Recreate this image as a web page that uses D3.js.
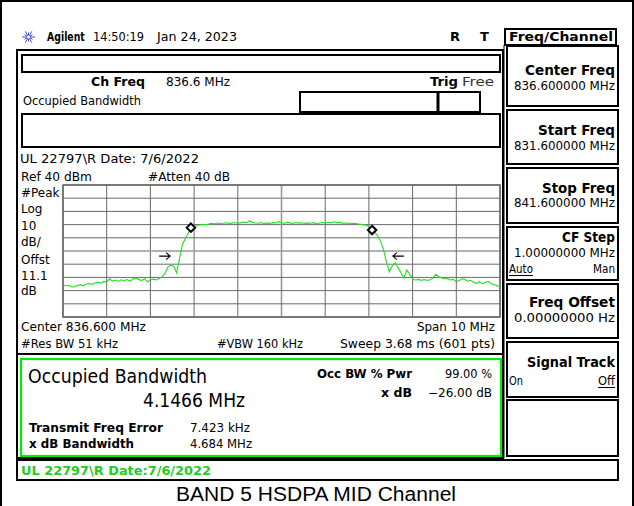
<!DOCTYPE html>
<html><head><meta charset="utf-8">
<script src="https://cdn.jsdelivr.net/npm/d3@7"></script>
<style>html,body{margin:0;padding:0;background:#fff;} svg{display:block;}</style>
</head><body>
<svg id="c" width="634" height="506"></svg>
<script>
// ---- data ----
const startFreq = 831.6, stopFreq = 841.6;      // MHz
const refLevel = 40, bottomLevel = -60;        // dBm, 10 dB/div
const traceLevels = [
-35.8,-36.5,-36.0,-37.3,-37.0,-36.2,-35.5,-36.4,-35.0,-34.6,
-35.3,-34.2,-33.6,-34.4,-33.0,-33.5,-31.0,-32.8,-32.0,-33.1,
-31.8,-32.5,-31.6,-32.9,-31.2,-30.4,-31.5,-32.4,-31.0,-33.4,
-32.0,-31.3,-31.9,-30.8,-29.6,-27.0,-22.0,-20.8,-21.6,-26.6,
-15.5,-5.0,-0.6,3.5,7.4,8.6,9.3,9.8,10.2,10.0,
10.4,10.9,10.6,11.2,10.8,11.0,11.4,10.9,11.1,11.6,
11.0,11.3,12.0,11.5,12.8,11.7,11.2,11.0,11.6,10.7,
11.3,10.9,11.5,11.2,12.2,11.4,11.0,11.7,11.3,10.8,
11.6,11.1,11.4,10.9,11.3,11.0,11.5,10.6,11.2,11.6,
11.0,11.8,11.3,12.1,11.4,11.7,11.1,11.0,11.2,10.8,
10.9,10.6,10.3,10.0,9.5,8.6,6.5,4.2,1.5,-2.5,
-9.0,-18.0,-25.7,-21.5,-19.0,-22.5,-26.5,-30.7,-24.4,-27.4,
-31.5,-32.0,-31.5,-32.2,-31.6,-32.3,-31.8,-30.6,-27.6,-29.6,
-30.4,-31.2,-30.8,-32.0,-31.5,-33.2,-32.4,-31.0,-31.6,-33.0,
-32.2,-33.8,-34.5,-33.4,-34.8,-33.6,-33.0,-34.9,-35.6,-36.4,
-37.3
];
const markerFreqs = [834.527, 838.673];
const markerLevels = [7.7, 5.9];
const xdbFreqs = [834.258, 838.942];
const xdbLevel = -15;
const leftLabels = ["#Peak","Log","10","dB/","Offst","11.1","dB"];
const softkeyTitles = ["Center Freq","Start Freq","Stop Freq","CF Step","Freq Offset","Signal Track"];
const softkeyValues = ["836.600000 MHz","831.600000 MHz","841.600000 MHz","1.00000000 MHz","0.00000000  Hz",""];

// ---- drawing ----
const svg = d3.select("#c");
const FONT = "DejaVu Sans";
function t(x, y, s, o = {}) {
  const e = svg.append("text").attr("x", x).attr("y", y).text(s)
    .attr("font-family", o.ff || FONT).attr("font-size", o.size || 12)
    .attr("font-weight", o.bold ? "bold" : "normal")
    .attr("fill", o.fill || "#000").attr("text-anchor", o.anchor || "start");
  if (o.len) e.attr("textLength", o.len).attr("lengthAdjust", "spacingAndGlyphs");
  return e;
}
function box(x0, y0, x1, y1, sw = 2, col = "#000") {
  svg.append("rect").attr("x", x0).attr("y", y0).attr("width", x1 - x0).attr("height", y1 - y0)
    .attr("fill", "none").attr("stroke", col).attr("stroke-width", sw);
}
function line(x0, y0, x1, y1, sw = 1, col = "#000") {
  svg.append("line").attr("x1", x0).attr("y1", y0).attr("x2", x1).attr("y2", y1)
    .attr("stroke", col).attr("stroke-width", sw);
}

// outer border (top, left, right)
svg.append("path").attr("d", "M1,506V1H633V506").attr("fill", "none").attr("stroke", "#000").attr("stroke-width", 2);

// header
const logo = svg.append("g").attr("transform", "translate(28.5,37)");
d3.range(0, 360, 30).forEach(a => {
  const r = a % 60 === 0 ? 6.5 : 4.5;
  logo.append("line").attr("x1", 0).attr("y1", 0)
    .attr("x2", r * Math.cos(a * Math.PI / 180)).attr("y2", r * Math.sin(a * Math.PI / 180))
    .attr("stroke", "#4a4ad0").attr("stroke-width", 1);
});
logo.append("circle").attr("r", 2).attr("fill", "#fff").attr("stroke", "#4a4ad0").attr("stroke-width", 0.8);
svg.append("text").attr("transform", "translate(47,41) scale(0.72,1)")
  .attr("font-family", FONT).attr("font-size", 13).attr("font-weight", "bold").text("Agilent");
t(93, 41, "14:50:19", {size: 13, len: 51});
t(157, 41, "Jan 24, 2023", {size: 13, len: 80});
t(450, 41, "R", {bold: true, size: 13});
t(480, 41, "T", {bold: true, size: 13});
box(505, 29, 616, 45, 2);
t(509, 41, "Freq/Channel", {bold: true, size: 13, len: 104});

// left panel frames
box(17, 50, 503, 458, 2);
box(22, 55, 500, 72, 2);
t(91, 86, "Ch Freq", {bold: true, size: 13, len: 54});
t(166, 86, "836.6 MHz", {size: 12, len: 64});
t(430, 86, "Trig", {bold: true, size: 13, len: 28});
t(462, 86, "Free", {size: 12, len: 32, fill: "#333"});
t(23, 105, "Occupied Bandwidth", {size: 12, len: 118});
box(300, 92, 480, 112, 2);
line(438, 92, 438, 112, 3);
box(22, 114, 500, 147, 2);
t(20, 163, "UL 22797\\R Date: 7/6/2022", {size: 12, len: 179});
t(21, 181, "Ref 40 dBm", {size: 12, len: 71});
t(148, 181, "#Atten 40 dB", {size: 12, len: 82});
leftLabels.forEach((s, i) => t(21, [197, 213, 230, 246, 264, 280, 295][i], s, {size: 12}));

// graticule
const x = d3.scaleLinear().domain([startFreq, stopFreq]).range([63, 500]);
const y = d3.scaleLinear().domain([bottomLevel, refLevel]).range([317, 185]);
const g = svg.append("g");
d3.range(0, 11).forEach(i => {
  const fx = x(startFreq + i * (stopFreq - startFreq) / 10);
  g.append("line").attr("x1", fx).attr("x2", fx).attr("y1", 185).attr("y2", 317)
    .attr("stroke", i === 5 ? "#999" : "#6a6a6a").attr("stroke-width", i === 5 ? 1.6 : 1);
  const ly = y(refLevel - i * 10);
  g.append("line").attr("x1", 63).attr("x2", 500).attr("y1", ly).attr("y2", ly)
    .attr("stroke", i === 5 ? "#999" : "#6a6a6a").attr("stroke-width", i === 5 ? 1.6 : 1);
});
g.append("rect").attr("x", 63).attr("y", 185).attr("width", 437).attr("height", 132)
  .attr("fill", "none").attr("stroke", "#666").attr("stroke-width", 1.5);

// trace
const n = traceLevels.length;
const pts = traceLevels.map((v, i) => [startFreq + i * (stopFreq - startFreq) / (n - 1), v]);
svg.append("path").datum(pts)
  .attr("d", d3.line().x(d => x(d[0])).y(d => y(d[1])))
  .attr("fill", "none").attr("stroke", "#22dd22").attr("stroke-width", 1.1);

// markers
markerFreqs.forEach((f, i) => {
  const cx = x(f), cy = y(markerLevels[i]), r = 4.2;
  svg.append("path").attr("d", `M${cx},${cy - r}L${cx + r},${cy}L${cx},${cy + r}L${cx - r},${cy}Z`)
    .attr("fill", "#fff").attr("stroke", "#000").attr("stroke-width", 2);
});
// x dB arrows
xdbFreqs.forEach((f, i) => {
  const dir = i === 0 ? 1 : -1;
  const tip = x(f) - dir * 9, tail = tip - dir * 11, ay = y(xdbLevel) - 1.5;
  svg.append("path")
    .attr("d", `M${tail},${ay}L${tip},${ay}M${tip - dir * 4},${ay - 3.5}L${tip},${ay}L${tip - dir * 4},${ay + 3.5}`)
    .attr("fill", "none").attr("stroke", "#000").attr("stroke-width", 1.1);
});

t(21, 331, "Center 836.600 MHz", {size: 12, len: 125});
t(495, 331, "Span 10 MHz", {size: 12, anchor: "end", len: 78});
t(21, 348, "#Res BW 51 kHz", {size: 12, len: 97});
t(217, 348, "#VBW 160 kHz", {size: 12, len: 86});
t(495, 348, "Sweep 3.68 ms (601 pts)", {size: 12, anchor: "end", len: 155});

// result box
line(17, 354, 503, 354, 2);
box(21, 359, 501, 456, 2.2, "#00ee00");
t(28, 383, "Occupied Bandwidth", {size: 20, len: 179});
t(143, 407, "4.1466 MHz", {size: 20, len: 102});
t(29, 432, "Transmit Freq Error", {bold: true, size: 13, len: 134});
t(190, 432, "7.423 kHz", {size: 12, len: 60});
t(29, 448, "x dB Bandwidth", {bold: true, size: 13, len: 105});
t(190, 448, "4.684 MHz", {size: 12, len: 62});
t(317, 378, "Occ BW % Pwr", {bold: true, size: 13, len: 95});
t(492, 378, "99.00 %", {size: 12, anchor: "end", len: 47});
t(381, 397, "x dB", {bold: true, size: 13, len: 31});
t(492, 397, "\u221226.00 dB", {size: 12, anchor: "end", len: 64});

// status line
box(17, 460, 618, 480, 2);
t(21, 475, "UL 22797\\R Date:7/6/2022", {bold: true, size: 13, len: 190, fill: "#22cc22"});

// softkey column
line(504, 45, 504, 458, 1);
const keyBoxes = [[46,106],[110,164],[168,223],[227,280],[284,338],[342,397],[400,456]];
keyBoxes.forEach(b => box(507, b[0], 618, b[1], 2));
const titleY = [75, 135, 193, 242, 307, 367];
const valueY = [90, 150, 207, 257, 322, 385];
const titleLen = [90, 77, 73, 53, 86, 88];
softkeyTitles.forEach((s, i) => {
  t(615, titleY[i], s, {bold: true, size: 14, anchor: "end", len: titleLen[i]});
  if (softkeyValues[i]) t(615, valueY[i], softkeyValues[i], {size: 12, anchor: "end", len: 101});
});
t(509, 273, "Auto", {size: 12, len: 24});
line(509, 275.5, 533, 275.5, 1);
t(615, 273, "Man", {size: 12, anchor: "end", len: 22});
t(509, 385, "On", {size: 12, len: 14});
t(615, 385, "Off", {size: 12, anchor: "end", len: 17});
line(598, 387.5, 615, 387.5, 1);

// caption
t(316, 501, "BAND 5 HSDPA MID Channel", {ff: "Liberation Sans, Arial, sans-serif", size: 20, anchor: "middle", len: 280});
</script>
</body></html>
